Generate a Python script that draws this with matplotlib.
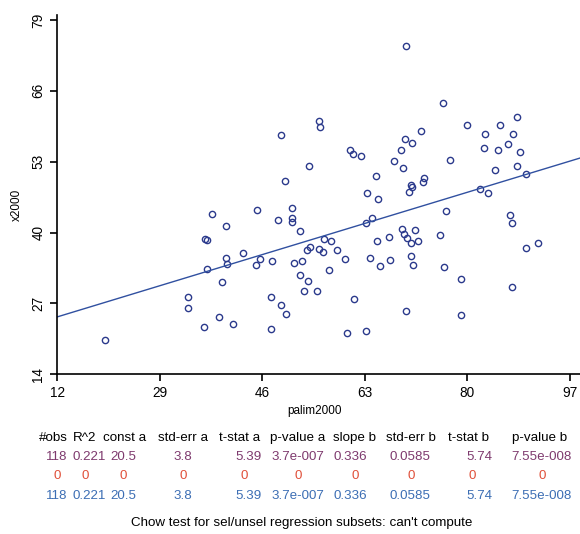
import numpy as np
import matplotlib
matplotlib.use('Agg')
import matplotlib.pyplot as plt

#
# data
#
palim2000 = [69.8, 76.0, 55.4, 55.6, 49.1, 72.3, 79.9, 85.5, 88.3, 82.9,
             87.6, 69.7, 70.8, 69.0, 60.6, 61.0, 62.4, 82.8, 85.1, 86.7,
             88.7, 67.8, 77.2, 53.8, 69.4, 88.3, 84.6, 89.7, 49.8, 64.8,
             72.9, 72.6, 70.6, 70.8, 70.4, 63.4, 65.2, 82.1, 83.5, 37.7,
             45.2, 39.9, 36.5, 36.9, 39.9, 42.8, 40.2, 44.9, 45.7, 36.9,
             39.3, 33.7, 33.7, 38.8, 41.1, 36.3, 19.9, 47.6, 48.6, 50.9,
             51.0, 51.0, 52.2, 51.2, 52.2, 47.4, 49.1, 50.0, 47.4, 63.2,
             64.2, 76.4, 87.1, 87.5, 56.3, 57.4, 69.2, 69.5, 70.0, 70.6,
             71.4, 71.8, 75.4, 65.0, 67.0, 53.4, 53.9, 55.4, 56.0, 58.4,
             52.6, 59.8, 63.8, 67.2, 65.6, 70.6, 71.0, 57.0, 53.6, 53.0,
             55.0, 61.2, 69.8, 76.2, 79.0, 79.0, 89.7, 91.7, 87.5, 60.0,
             63.2]
x2000 = [74.3, 63.7, 60.4, 59.4, 57.9, 58.6, 59.7, 59.7, 61.2, 58.1,
         58.1, 57.1, 56.4, 55.1, 55.1, 54.4, 54.0, 55.5, 55.1, 56.2,
         54.8, 53.1, 53.3, 52.2, 51.8, 52.2, 51.5, 50.8, 49.5, 50.4,
         50.0, 49.3, 48.8, 48.4, 47.5, 47.3, 46.1, 48.0, 47.3, 43.4,
         44.2, 41.2, 38.9, 38.6, 35.4, 36.3, 34.3, 34.1, 35.2, 33.4,
         31.0, 28.1, 26.1, 24.6, 23.3, 22.6, 20.2, 34.8, 42.3, 44.5,
         42.7, 42.0, 40.3, 34.5, 32.3, 28.1, 26.8, 25.0, 22.4, 41.8,
         42.6, 44.0, 43.2, 41.8, 38.9, 38.5, 40.7, 39.7, 39.0, 38.1,
         40.5, 38.5, 39.6, 38.5, 39.1, 36.8, 37.4, 37.0, 36.5, 36.8,
         34.8, 35.2, 35.4, 34.9, 33.9, 35.7, 34.0, 33.2, 31.2, 29.2,
         29.2, 27.9, 25.7, 33.6, 31.4, 24.8, 37.2, 38.0, 30.1, 21.5,
         21.9]

const_a = 20.5
slope_b = 0.336

xticks = [12, 29, 46, 63, 80, 97]
yticks = [14, 27, 40, 53, 66, 79]

# regression stats table
headers = ['#obs', 'R^2', 'const a', 'std-err a', 't-stat a', 'p-value a',
           'slope b', 'std-err b', 't-stat b', 'p-value b']
row_all = ['118', '0.221', '20.5', '3.8', '5.39', '3.7e-007', '0.336',
           '0.0585', '5.74', '7.55e-008']
row_sel = ['0', '0', '0', '0', '0', '0', '0', '0', '0', '0']
row_unsel = ['118', '0.221', '20.5', '3.8', '5.39', '3.7e-007', '0.336',
             '0.0585', '5.74', '7.55e-008']
chow_text = "Chow test for sel/unsel regression subsets: can't compute"


def main():

    plt.rcParams['font.family'] = ['Liberation Sans', 'DejaVu Sans']

    fig = plt.figure(figsize=(5.8, 5.34), dpi=100)
    W, H = 580.0, 534.0

    # axes box: origin at (57,374) px, open to the right edge
    ax = fig.add_axes([57.3 / W, 1 - 374.3 / H, (W - 57.3) / W, (374.3 - 15) / H])

    xmin, xmax = 12, 98.7
    ymin, ymax = 14, 79.9

    #
    # scatter + fitted line
    #
    ax.plot(palim2000, x2000, 'o', mfc='none', mec='#2b3a8c', ms=4.5, mew=1.0,
            clip_on=False)
    xl = np.array([xmin, xmax])
    ax.plot(xl, const_a + slope_b * xl, color='#3050a0', lw=1.0)

    ax.set_xlim(xmin, xmax)
    ax.set_ylim(ymin, ymax)
    ax.set_xticks(xticks)
    ax.set_yticks(yticks)

    for s in ['top', 'right']:
        ax.spines[s].set_visible(False)
    for s in ['left', 'bottom']:
        ax.spines[s].set_linewidth(1.2)

    ax.tick_params(direction='out', length=5, width=1.2, labelsize=9.8)
    ax.tick_params(axis='y', labelrotation=90)
    for lab in ax.get_yticklabels():
        lab.set_va('center')

    fig.text(17 / W, 1 - 205 / H, 'x2000', rotation=90, ha='center',
             va='center', fontsize=8.5)
    fig.text(315 / W, 1 - 411 / H, 'palim2000', ha='center', va='center',
             fontsize=8.5)

    #
    # stats table under the plot
    #
    fs = 9.6
    head_x = [53, 85, 125, 183, 240, 298, 355, 411, 469, 540]
    val_x = [57, 89, 123, 183, 249, 298, 350, 410, 479, 542]
    zero_x = [57, 85, 123, 183, 244, 298, 355, 411, 472, 542]

    for k in range(len(headers)):
        fig.text(head_x[k] / W, 1 - 438 / H, headers[k], ha='center',
                 va='center', fontsize=fs, color='black')
        fig.text(val_x[k] / W, 1 - 457 / H, row_all[k], ha='center',
                 va='center', fontsize=fs, color='#7e3a6e')
        fig.text(zero_x[k] / W, 1 - 476 / H, row_sel[k], ha='center',
                 va='center', fontsize=fs, color='#e0503a')
        fig.text(val_x[k] / W, 1 - 496 / H, row_unsel[k], ha='center',
                 va='center', fontsize=fs, color='#3c6eb4')

    fig.text(302 / W, 1 - 523 / H, chow_text, ha='center', va='center',
             fontsize=fs, color='black')

    plt.savefig('out.png', dpi=100)


main()
